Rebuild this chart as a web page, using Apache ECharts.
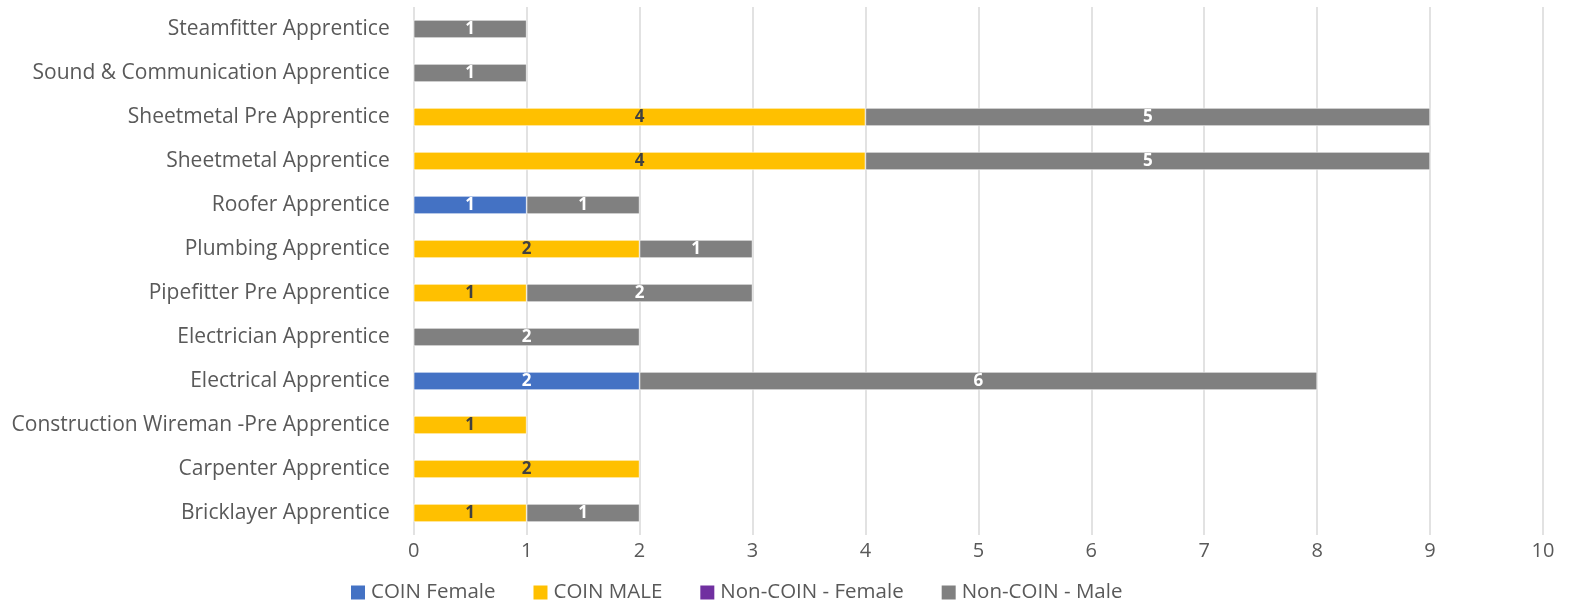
<!DOCTYPE html>
<html><head><meta charset="utf-8">
<script src="https://cdn.jsdelivr.net/npm/echarts@6/dist/echarts.min.js"></script>
<style>html,body{margin:0;padding:0;background:#fff}#c{width:1572px;height:604px}</style>
</head><body><div id="c"></div>
<script>
const categories = ["Bricklayer Apprentice","Carpenter Apprentice","Construction Wireman -Pre Apprentice","Electrical Apprentice","Electrician Apprentice","Pipefitter Pre Apprentice","Plumbing Apprentice","Roofer Apprentice","Sheetmetal Apprentice","Sheetmetal Pre Apprentice","Sound & Communication Apprentice","Steamfitter Apprentice"];
const coinFemale = [null,null,null,2,null,null,null,1,null,null,null,null];
const coinMale = [1,2,1,null,null,1,2,null,4,4,null,null];
const nonCoinFemale = [null,null,null,null,null,null,null,null,null,null,null,null];
const nonCoinMale = [1,null,null,6,2,2,1,1,5,5,1,1];
const xTicks = [0,1,2,3,4,5,6,7,8,9,10];

const font = "'Open Sans', 'Noto Sans', sans-serif";
function mk(name, data, color, labelColor){
  return {name, type:'bar', stack:'s', data, barWidth:18,
    itemStyle:{color, borderColor:'#fff', borderWidth:0.6},
    label:{show:true, position:'inside', color:labelColor, fontWeight:'bold', fontSize:17, fontFamily:font,
      formatter:p=> (p.value==null||p.value===0)?'':String(p.value)}};
}
const chart = echarts.init(document.getElementById('c'));
chart.setOption({
  animation:false,
  grid:{left:413.7, right:29, top:7, bottom:69, containLabel:false},
  legend:{top:577, left:344, icon:'rect', itemWidth:16, itemHeight:16, itemGap:36,
    textStyle:{fontSize:20.5, color:'#595959', fontFamily:font},
    data:['COIN Female','COIN MALE','Non-COIN - Female','Non-COIN - Male']},
  xAxis:{type:'value', min:0, max:10, interval:1,
    axisLine:{show:false}, axisTick:{show:false},
    splitLine:{lineStyle:{color:'#d9d9d9', width:1.5}},
    axisLabel:{fontSize:20, color:'#595959', fontFamily:font, margin:6,
      formatter:v=>xTicks.includes(v)?String(v):''}},
  yAxis:{type:'category', data:categories,
    axisLine:{show:false}, axisTick:{show:false},
    axisLabel:{fontSize:21, color:'#595959', fontFamily:font, margin:24}},
  series:[
    mk('COIN Female', coinFemale, '#4472C4', '#ffffff'),
    mk('COIN MALE', coinMale, '#FFC000', '#404040'),
    mk('Non-COIN - Female', nonCoinFemale, '#7030A0', '#ffffff'),
    mk('Non-COIN - Male', nonCoinMale, '#808080', '#ffffff')
  ]
});
</script></body></html>
